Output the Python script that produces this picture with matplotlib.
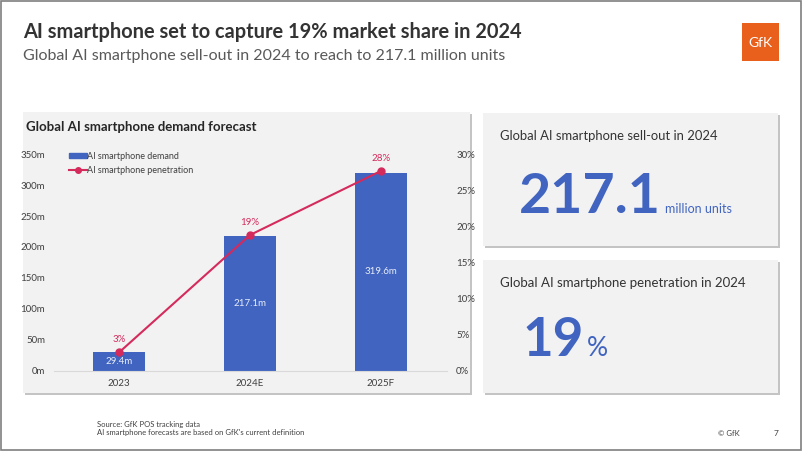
import numpy as np
import matplotlib.pyplot as plt
from matplotlib.patches import Rectangle
from matplotlib.lines import Line2D

plt.rcParams['font.family'] = ['Lato', 'DejaVu Sans']

years = ['2023', '2024E', '2025F']
demand = [29.4, 217.1, 319.6]
demand_labels = ['29.4m', '217.1m', '319.6m']
penetration = [2.5, 18.8, 27.7]
pen_labels = ['3%', '19%', '28%']
left_ticks = [0, 50, 100, 150, 200, 250, 300, 350]
right_ticks = [0, 5, 10, 15, 20, 25, 30]

W, H = 802, 451
blue = '#4064C0'
red = '#D42A5C'
panel = '#F2F2F2'
shadow = '#C4C4C4'

fig = plt.figure(figsize=(W / 100, H / 100), dpi=100)
fig.patch.set_facecolor('white')

# background layer in pixel coords (origin top-left)
bg = fig.add_axes([0, 0, 1, 1], zorder=-5)
bg.set_xlim(0, W)
bg.set_ylim(H, 0)
bg.axis('off')


def fx(x):
    return x / W


def fy(y):
    return 1 - y / H


def box(x0, y0, x1, y1):
    bg.add_patch(Rectangle((x0 + 2, y0 + 2), x1 - x0, y1 - y0, facecolor=shadow, edgecolor='none'))
    bg.add_patch(Rectangle((x0, y0), x1 - x0, y1 - y0, facecolor=panel, edgecolor='none'))


# outer border
bg.add_patch(Rectangle((0.5, 0.5), W - 1.5, H - 1.5, fill=False, edgecolor='#7F7F7F', linewidth=1.2))

# header
fig.text(fx(23), fy(32), 'AI smartphone set to capture 19% market share in 2024',
         fontsize=14.4, fontweight='bold', color='#333333', va='center', ha='left')
fig.text(fx(23), fy(56), 'Global AI smartphone sell-out in 2024 to reach to 217.1 million units',
         fontsize=11.5, color='#595959', va='center', ha='left')

# logo
bg.add_patch(Rectangle((742, 23), 37, 38, facecolor='#E8601C', edgecolor='none'))
fig.text(fx(760), fy(43), 'GfK', fontsize=10, color='white', ha='center', va='center')

# panels
box(23, 112, 470, 393)
box(483, 113, 778, 246)
box(483, 260, 778, 393)

fig.text(fx(26), fy(127), 'Global AI smartphone demand forecast', fontsize=9.5,
         fontweight='bold', color='#262626', va='center', ha='left')

# chart
ax = fig.add_axes([fx(53.5), fy(370.5), 393 / W, 216.2 / H])
ax.set_facecolor('none')
x = np.arange(len(years))
ax.bar(x, demand, width=0.4, color=blue, zorder=2)
for xi, v, lab in zip(x, demand, demand_labels):
    ax.text(xi, v / 2, lab, ha='center', va='center', color='#E6ECF8', fontsize=7)
ax.set_xlim(-0.5, 2.5)
ax.set_ylim(0, 350)
ax.set_yticks(left_ticks)
ax.set_yticklabels([f'{t}m' for t in left_ticks])
ax.set_xticks(x)
ax.set_xticklabels(years)
for s in ['top', 'right', 'left']:
    ax.spines[s].set_visible(False)
ax.spines['bottom'].set_color('#D9D9D9')
ax.tick_params(axis='both', length=0, labelsize=7, colors='#404040')
ax.tick_params(axis='y', pad=6)
ax.tick_params(axis='x', pad=6)

ax2 = ax.twinx()
ax2.plot(x, penetration, color=red, linewidth=1.5, marker='o', markersize=5, zorder=3)
for xi, v, lab in zip(x, penetration, pen_labels):
    ax2.annotate(lab, (xi, v), xytext=(0, 6), textcoords='offset points',
                 ha='center', va='bottom', color=red, fontsize=7)
ax2.set_ylim(0, 30)
ax2.set_yticks(right_ticks)
ax2.set_yticklabels([f'{t}%' for t in right_ticks])
for s in ax2.spines.values():
    s.set_visible(False)
ax2.tick_params(axis='y', length=0, labelsize=7, colors='#404040', pad=7)

handles = [Rectangle((0, 0), 1, 1, color=blue),
           Line2D([0], [0], color=red, marker='o', markersize=4, linewidth=1.5)]
ax.legend(handles, ['AI smartphone demand', 'AI smartphone penetration'],
          loc='upper left', bbox_to_anchor=(fx(64), fy(147)), bbox_transform=fig.transFigure,
          frameon=False, fontsize=6.5, handlelength=2.0, handleheight=0.5, handletextpad=0.1,
          labelspacing=0.6, borderpad=0, labelcolor='#404040')

# right panels text
fig.text(fx(500), fy(136), 'Global AI smartphone sell-out in 2024', fontsize=9.4,
         color='#333333', va='center', ha='left')
fig.text(fx(519), fy(213), '217.1', fontsize=40, fontweight='bold', color=blue,
         va='baseline', ha='left')
fig.text(fx(665), fy(213), 'million units', fontsize=9, color=blue, va='baseline', ha='left')

fig.text(fx(500), fy(283), 'Global AI smartphone penetration in 2024', fontsize=9.5,
         color='#333333', va='center', ha='left')
fig.text(fx(522), fy(356), '19', fontsize=38, fontweight='bold', color=blue,
         va='baseline', ha='left')
fig.text(fx(587), fy(356), '%', fontsize=19, color=blue, va='baseline', ha='left')

# footer
fig.text(fx(97), fy(424), 'Source: GfK POS tracking data', fontsize=5.5, color='#404040',
         va='center', ha='left')
fig.text(fx(97), fy(433), "AI smartphone forecasts are based on GfK's current definition",
         fontsize=5.5, color='#404040', va='center', ha='left')
fig.text(fx(718), fy(433), '© GfK', fontsize=5.5, color='#404040', va='center', ha='left')
fig.text(fx(774), fy(433), '7', fontsize=6, color='#404040', va='center', ha='left')

fig.savefig('out.png', dpi=100)
